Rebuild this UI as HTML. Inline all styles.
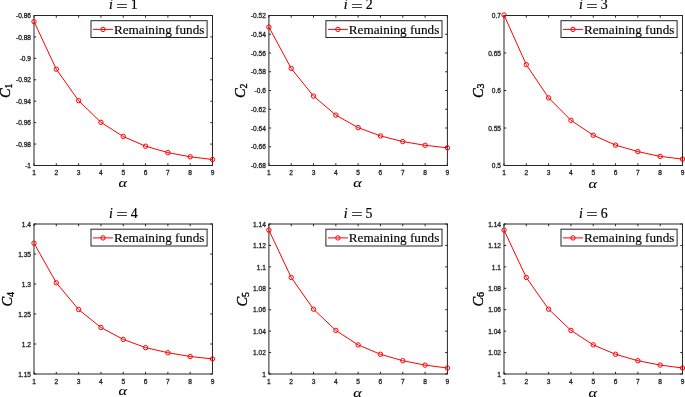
<!DOCTYPE html>
<html><head><meta charset="utf-8"><style>
html,body{margin:0;padding:0;background:#fff;}
svg{display:block;}
.tk{font-family:"Liberation Sans",Arial,sans-serif;font-size:6.6px;fill:#262626;stroke:#262626;stroke-width:0.3px;}
.lg{font-family:"Liberation Serif","Times New Roman",serif;font-size:13.2px;fill:#000;stroke:#000;stroke-width:0.15px;}
.ti{font-family:"Liberation Serif","Times New Roman",serif;font-size:13.8px;fill:#000;stroke:#000;stroke-width:0.2px;}
.lb{font-family:"Liberation Serif","Times New Roman",serif;font-size:14px;fill:#000;stroke:#000;stroke-width:0.35px;}
</style></head><body>
<svg width="685" height="397" viewBox="0 0 685 397">
<rect width="685" height="397" fill="#fff"/>
<rect x="34" y="15.5" width="178.5" height="150" fill="#fff" stroke="#262626" stroke-width="1"/>
<path d="M34 165.5v-2.2M34 15.5v2.2M56.31 165.5v-2.2M56.31 15.5v2.2M78.62 165.5v-2.2M78.62 15.5v2.2M100.94 165.5v-2.2M100.94 15.5v2.2M123.25 165.5v-2.2M123.25 15.5v2.2M145.56 165.5v-2.2M145.56 15.5v2.2M167.88 165.5v-2.2M167.88 15.5v2.2M190.19 165.5v-2.2M190.19 15.5v2.2M212.5 165.5v-2.2M212.5 15.5v2.2M34 15.5h2.2M212.5 15.5h-2.2M34 36.93h2.2M212.5 36.93h-2.2M34 58.36h2.2M212.5 58.36h-2.2M34 79.79h2.2M212.5 79.79h-2.2M34 101.21h2.2M212.5 101.21h-2.2M34 122.64h2.2M212.5 122.64h-2.2M34 144.07h2.2M212.5 144.07h-2.2M34 165.5h2.2M212.5 165.5h-2.2" stroke="#262626" stroke-width="1" fill="none"/>
<text x="34" y="175.1" class="tk" text-anchor="middle">1</text>
<text x="56.31" y="175.1" class="tk" text-anchor="middle">2</text>
<text x="78.62" y="175.1" class="tk" text-anchor="middle">3</text>
<text x="100.94" y="175.1" class="tk" text-anchor="middle">4</text>
<text x="123.25" y="175.1" class="tk" text-anchor="middle">5</text>
<text x="145.56" y="175.1" class="tk" text-anchor="middle">6</text>
<text x="167.88" y="175.1" class="tk" text-anchor="middle">7</text>
<text x="190.19" y="175.1" class="tk" text-anchor="middle">8</text>
<text x="212.5" y="175.1" class="tk" text-anchor="middle">9</text>
<text x="31" y="18.2" class="tk" text-anchor="end">-0.86</text>
<text x="31" y="39.63" class="tk" text-anchor="end">-0.88</text>
<text x="31" y="61.06" class="tk" text-anchor="end">-0.9</text>
<text x="31" y="82.49" class="tk" text-anchor="end">-0.92</text>
<text x="31" y="103.91" class="tk" text-anchor="end">-0.94</text>
<text x="31" y="125.34" class="tk" text-anchor="end">-0.96</text>
<text x="31" y="146.77" class="tk" text-anchor="end">-0.98</text>
<text x="31" y="168.2" class="tk" text-anchor="end">-1</text>
<path d="M34 21.6 L56.31 69.2 L78.62 100.7 L100.94 122.3 L123.25 136.5 L145.56 146.2 L167.88 152.6 L190.19 156.8 L212.5 159.5" stroke="#ff0000" stroke-width="1" fill="none"/>
<circle cx="34" cy="21.6" r="2.2" stroke="#ff0000" stroke-width="1" fill="none"/>
<circle cx="56.31" cy="69.2" r="2.2" stroke="#ff0000" stroke-width="1" fill="none"/>
<circle cx="78.62" cy="100.7" r="2.2" stroke="#ff0000" stroke-width="1" fill="none"/>
<circle cx="100.94" cy="122.3" r="2.2" stroke="#ff0000" stroke-width="1" fill="none"/>
<circle cx="123.25" cy="136.5" r="2.2" stroke="#ff0000" stroke-width="1" fill="none"/>
<circle cx="145.56" cy="146.2" r="2.2" stroke="#ff0000" stroke-width="1" fill="none"/>
<circle cx="167.88" cy="152.6" r="2.2" stroke="#ff0000" stroke-width="1" fill="none"/>
<circle cx="190.19" cy="156.8" r="2.2" stroke="#ff0000" stroke-width="1" fill="none"/>
<circle cx="212.5" cy="159.5" r="2.2" stroke="#ff0000" stroke-width="1" fill="none"/>
<rect x="91" y="20.7" width="116.1" height="16.8" fill="#fff" stroke="#262626" stroke-width="1"/>
<path d="M93 29.4H113" stroke="#ff0000" stroke-width="1" fill="none"/>
<circle cx="103" cy="29.4" r="2.2" stroke="#ff0000" stroke-width="1" fill="none"/>
<text x="113.9" y="33.7" class="lg">Remaining funds</text>
<text x="108.91" y="9.2" class="ti" font-style="italic">i</text>
<text transform="translate(116.29 10.5) scale(1.464 1)" class="ti">=</text>
<text x="130.69" y="9.2" class="ti">1</text>
<text transform="translate(118.47 186.8) scale(1.202 1)" class="lb" style="font-size:13.5px;stroke-width:0.1px" font-style="italic">α</text>
<g transform="translate(10 90.5) rotate(-90)"><text x="-7.61" y="0" class="lb" style="font-size:14.5px" font-style="italic">C</text><text x="2.0" y="1.8" class="lb" style="font-size:10px">1</text></g>
<rect x="268.9" y="15.5" width="178.5" height="150" fill="#fff" stroke="#262626" stroke-width="1"/>
<path d="M268.9 165.5v-2.2M268.9 15.5v2.2M291.21 165.5v-2.2M291.21 15.5v2.2M313.52 165.5v-2.2M313.52 15.5v2.2M335.84 165.5v-2.2M335.84 15.5v2.2M358.15 165.5v-2.2M358.15 15.5v2.2M380.46 165.5v-2.2M380.46 15.5v2.2M402.77 165.5v-2.2M402.77 15.5v2.2M425.09 165.5v-2.2M425.09 15.5v2.2M447.4 165.5v-2.2M447.4 15.5v2.2M268.9 15.5h2.2M447.4 15.5h-2.2M268.9 34.25h2.2M447.4 34.25h-2.2M268.9 53h2.2M447.4 53h-2.2M268.9 71.75h2.2M447.4 71.75h-2.2M268.9 90.5h2.2M447.4 90.5h-2.2M268.9 109.25h2.2M447.4 109.25h-2.2M268.9 128h2.2M447.4 128h-2.2M268.9 146.75h2.2M447.4 146.75h-2.2M268.9 165.5h2.2M447.4 165.5h-2.2" stroke="#262626" stroke-width="1" fill="none"/>
<text x="268.9" y="175.1" class="tk" text-anchor="middle">1</text>
<text x="291.21" y="175.1" class="tk" text-anchor="middle">2</text>
<text x="313.52" y="175.1" class="tk" text-anchor="middle">3</text>
<text x="335.84" y="175.1" class="tk" text-anchor="middle">4</text>
<text x="358.15" y="175.1" class="tk" text-anchor="middle">5</text>
<text x="380.46" y="175.1" class="tk" text-anchor="middle">6</text>
<text x="402.77" y="175.1" class="tk" text-anchor="middle">7</text>
<text x="425.09" y="175.1" class="tk" text-anchor="middle">8</text>
<text x="447.4" y="175.1" class="tk" text-anchor="middle">9</text>
<text x="265.9" y="18.2" class="tk" text-anchor="end">-0.52</text>
<text x="265.9" y="36.95" class="tk" text-anchor="end">-0.54</text>
<text x="265.9" y="55.7" class="tk" text-anchor="end">-0.56</text>
<text x="265.9" y="74.45" class="tk" text-anchor="end">-0.58</text>
<text x="265.9" y="93.2" class="tk" text-anchor="end">-0.6</text>
<text x="265.9" y="111.95" class="tk" text-anchor="end">-0.62</text>
<text x="265.9" y="130.7" class="tk" text-anchor="end">-0.64</text>
<text x="265.9" y="149.45" class="tk" text-anchor="end">-0.66</text>
<text x="265.9" y="168.2" class="tk" text-anchor="end">-0.68</text>
<path d="M268.9 27.1 L291.21 68.4 L313.52 96.1 L335.84 115.1 L358.15 127.6 L380.46 135.9 L402.77 141.6 L425.09 145.3 L447.4 147.8" stroke="#ff0000" stroke-width="1" fill="none"/>
<circle cx="268.9" cy="27.1" r="2.2" stroke="#ff0000" stroke-width="1" fill="none"/>
<circle cx="291.21" cy="68.4" r="2.2" stroke="#ff0000" stroke-width="1" fill="none"/>
<circle cx="313.52" cy="96.1" r="2.2" stroke="#ff0000" stroke-width="1" fill="none"/>
<circle cx="335.84" cy="115.1" r="2.2" stroke="#ff0000" stroke-width="1" fill="none"/>
<circle cx="358.15" cy="127.6" r="2.2" stroke="#ff0000" stroke-width="1" fill="none"/>
<circle cx="380.46" cy="135.9" r="2.2" stroke="#ff0000" stroke-width="1" fill="none"/>
<circle cx="402.77" cy="141.6" r="2.2" stroke="#ff0000" stroke-width="1" fill="none"/>
<circle cx="425.09" cy="145.3" r="2.2" stroke="#ff0000" stroke-width="1" fill="none"/>
<circle cx="447.4" cy="147.8" r="2.2" stroke="#ff0000" stroke-width="1" fill="none"/>
<rect x="325.9" y="20.7" width="116.1" height="16.8" fill="#fff" stroke="#262626" stroke-width="1"/>
<path d="M327.9 29.4H347.9" stroke="#ff0000" stroke-width="1" fill="none"/>
<circle cx="337.9" cy="29.4" r="2.2" stroke="#ff0000" stroke-width="1" fill="none"/>
<text x="348.8" y="33.7" class="lg">Remaining funds</text>
<text x="343.81" y="9.2" class="ti" font-style="italic">i</text>
<text transform="translate(351.19 10.5) scale(1.464 1)" class="ti">=</text>
<text x="365.74" y="9.2" class="ti">2</text>
<text transform="translate(353.37 186.8) scale(1.202 1)" class="lb" style="font-size:13.5px;stroke-width:0.1px" font-style="italic">α</text>
<g transform="translate(245.2 90.5) rotate(-90)"><text x="-7.61" y="0" class="lb" style="font-size:14.5px" font-style="italic">C</text><text x="2.0" y="1.8" class="lb" style="font-size:10px">2</text></g>
<rect x="504" y="15.5" width="178.5" height="150" fill="#fff" stroke="#262626" stroke-width="1"/>
<path d="M504 165.5v-2.2M504 15.5v2.2M526.31 165.5v-2.2M526.31 15.5v2.2M548.62 165.5v-2.2M548.62 15.5v2.2M570.94 165.5v-2.2M570.94 15.5v2.2M593.25 165.5v-2.2M593.25 15.5v2.2M615.56 165.5v-2.2M615.56 15.5v2.2M637.88 165.5v-2.2M637.88 15.5v2.2M660.19 165.5v-2.2M660.19 15.5v2.2M682.5 165.5v-2.2M682.5 15.5v2.2M504 15.5h2.2M682.5 15.5h-2.2M504 53h2.2M682.5 53h-2.2M504 90.5h2.2M682.5 90.5h-2.2M504 128h2.2M682.5 128h-2.2M504 165.5h2.2M682.5 165.5h-2.2" stroke="#262626" stroke-width="1" fill="none"/>
<text x="504" y="175.1" class="tk" text-anchor="middle">1</text>
<text x="526.31" y="175.1" class="tk" text-anchor="middle">2</text>
<text x="548.62" y="175.1" class="tk" text-anchor="middle">3</text>
<text x="570.94" y="175.1" class="tk" text-anchor="middle">4</text>
<text x="593.25" y="175.1" class="tk" text-anchor="middle">5</text>
<text x="615.56" y="175.1" class="tk" text-anchor="middle">6</text>
<text x="637.88" y="175.1" class="tk" text-anchor="middle">7</text>
<text x="660.19" y="175.1" class="tk" text-anchor="middle">8</text>
<text x="682.5" y="175.1" class="tk" text-anchor="middle">9</text>
<text x="501" y="18.2" class="tk" text-anchor="end">0.7</text>
<text x="501" y="55.7" class="tk" text-anchor="end">0.65</text>
<text x="501" y="93.2" class="tk" text-anchor="end">0.6</text>
<text x="501" y="130.7" class="tk" text-anchor="end">0.55</text>
<text x="501" y="168.2" class="tk" text-anchor="end">0.5</text>
<path d="M504 15 L526.31 64.7 L548.62 97.9 L570.94 120.3 L593.25 135.2 L615.56 145.1 L637.88 151.6 L660.19 156.4 L682.5 159.1" stroke="#ff0000" stroke-width="1" fill="none"/>
<circle cx="504" cy="15" r="2.2" stroke="#ff0000" stroke-width="1" fill="none"/>
<circle cx="526.31" cy="64.7" r="2.2" stroke="#ff0000" stroke-width="1" fill="none"/>
<circle cx="548.62" cy="97.9" r="2.2" stroke="#ff0000" stroke-width="1" fill="none"/>
<circle cx="570.94" cy="120.3" r="2.2" stroke="#ff0000" stroke-width="1" fill="none"/>
<circle cx="593.25" cy="135.2" r="2.2" stroke="#ff0000" stroke-width="1" fill="none"/>
<circle cx="615.56" cy="145.1" r="2.2" stroke="#ff0000" stroke-width="1" fill="none"/>
<circle cx="637.88" cy="151.6" r="2.2" stroke="#ff0000" stroke-width="1" fill="none"/>
<circle cx="660.19" cy="156.4" r="2.2" stroke="#ff0000" stroke-width="1" fill="none"/>
<circle cx="682.5" cy="159.1" r="2.2" stroke="#ff0000" stroke-width="1" fill="none"/>
<rect x="561" y="20.7" width="116.1" height="16.8" fill="#fff" stroke="#262626" stroke-width="1"/>
<path d="M563 29.4H583" stroke="#ff0000" stroke-width="1" fill="none"/>
<circle cx="573" cy="29.4" r="2.2" stroke="#ff0000" stroke-width="1" fill="none"/>
<text x="583.9" y="33.7" class="lg">Remaining funds</text>
<text x="578.91" y="9.2" class="ti" font-style="italic">i</text>
<text transform="translate(586.29 10.5) scale(1.464 1)" class="ti">=</text>
<text x="600.79" y="9.2" class="ti">3</text>
<text transform="translate(588.47 188.4) scale(1.202 1)" class="lb" style="font-size:13.5px;stroke-width:0.1px" font-style="italic">α</text>
<g transform="translate(482.5 90.5) rotate(-90)"><text x="-7.61" y="0" class="lb" style="font-size:14.5px" font-style="italic">C</text><text x="2.0" y="1.8" class="lb" style="font-size:10px">3</text></g>
<rect x="34" y="224" width="178.5" height="150" fill="#fff" stroke="#262626" stroke-width="1"/>
<path d="M34 374v-2.2M34 224v2.2M56.31 374v-2.2M56.31 224v2.2M78.62 374v-2.2M78.62 224v2.2M100.94 374v-2.2M100.94 224v2.2M123.25 374v-2.2M123.25 224v2.2M145.56 374v-2.2M145.56 224v2.2M167.88 374v-2.2M167.88 224v2.2M190.19 374v-2.2M190.19 224v2.2M212.5 374v-2.2M212.5 224v2.2M34 224h2.2M212.5 224h-2.2M34 254h2.2M212.5 254h-2.2M34 284h2.2M212.5 284h-2.2M34 314h2.2M212.5 314h-2.2M34 344h2.2M212.5 344h-2.2M34 374h2.2M212.5 374h-2.2" stroke="#262626" stroke-width="1" fill="none"/>
<text x="34" y="383.6" class="tk" text-anchor="middle">1</text>
<text x="56.31" y="383.6" class="tk" text-anchor="middle">2</text>
<text x="78.62" y="383.6" class="tk" text-anchor="middle">3</text>
<text x="100.94" y="383.6" class="tk" text-anchor="middle">4</text>
<text x="123.25" y="383.6" class="tk" text-anchor="middle">5</text>
<text x="145.56" y="383.6" class="tk" text-anchor="middle">6</text>
<text x="167.88" y="383.6" class="tk" text-anchor="middle">7</text>
<text x="190.19" y="383.6" class="tk" text-anchor="middle">8</text>
<text x="212.5" y="383.6" class="tk" text-anchor="middle">9</text>
<text x="31" y="226.7" class="tk" text-anchor="end">1.4</text>
<text x="31" y="256.7" class="tk" text-anchor="end">1.35</text>
<text x="31" y="286.7" class="tk" text-anchor="end">1.3</text>
<text x="31" y="316.7" class="tk" text-anchor="end">1.25</text>
<text x="31" y="346.7" class="tk" text-anchor="end">1.2</text>
<text x="31" y="376.7" class="tk" text-anchor="end">1.15</text>
<path d="M34 243.2 L56.31 282.8 L78.62 309.5 L100.94 327.5 L123.25 339.4 L145.56 347.6 L167.88 352.7 L190.19 356.5 L212.5 358.9" stroke="#ff0000" stroke-width="1" fill="none"/>
<circle cx="34" cy="243.2" r="2.2" stroke="#ff0000" stroke-width="1" fill="none"/>
<circle cx="56.31" cy="282.8" r="2.2" stroke="#ff0000" stroke-width="1" fill="none"/>
<circle cx="78.62" cy="309.5" r="2.2" stroke="#ff0000" stroke-width="1" fill="none"/>
<circle cx="100.94" cy="327.5" r="2.2" stroke="#ff0000" stroke-width="1" fill="none"/>
<circle cx="123.25" cy="339.4" r="2.2" stroke="#ff0000" stroke-width="1" fill="none"/>
<circle cx="145.56" cy="347.6" r="2.2" stroke="#ff0000" stroke-width="1" fill="none"/>
<circle cx="167.88" cy="352.7" r="2.2" stroke="#ff0000" stroke-width="1" fill="none"/>
<circle cx="190.19" cy="356.5" r="2.2" stroke="#ff0000" stroke-width="1" fill="none"/>
<circle cx="212.5" cy="358.9" r="2.2" stroke="#ff0000" stroke-width="1" fill="none"/>
<rect x="91" y="229.2" width="116.1" height="16.8" fill="#fff" stroke="#262626" stroke-width="1"/>
<path d="M93 237.9H113" stroke="#ff0000" stroke-width="1" fill="none"/>
<circle cx="103" cy="237.9" r="2.2" stroke="#ff0000" stroke-width="1" fill="none"/>
<text x="113.9" y="242.2" class="lg">Remaining funds</text>
<text x="108.91" y="217.7" class="ti" font-style="italic">i</text>
<text transform="translate(116.29 219) scale(1.464 1)" class="ti">=</text>
<text x="130.63" y="217.7" class="ti">4</text>
<text transform="translate(118.47 395.3) scale(1.202 1)" class="lb" style="font-size:13.5px;stroke-width:0.1px" font-style="italic">α</text>
<g transform="translate(12.3 299) rotate(-90)"><text x="-7.61" y="0" class="lb" style="font-size:14.5px" font-style="italic">C</text><text x="2.0" y="1.8" class="lb" style="font-size:10px">4</text></g>
<rect x="268.9" y="224" width="178.5" height="150" fill="#fff" stroke="#262626" stroke-width="1"/>
<path d="M268.9 374v-2.2M268.9 224v2.2M291.21 374v-2.2M291.21 224v2.2M313.52 374v-2.2M313.52 224v2.2M335.84 374v-2.2M335.84 224v2.2M358.15 374v-2.2M358.15 224v2.2M380.46 374v-2.2M380.46 224v2.2M402.77 374v-2.2M402.77 224v2.2M425.09 374v-2.2M425.09 224v2.2M447.4 374v-2.2M447.4 224v2.2M268.9 224h2.2M447.4 224h-2.2M268.9 245.43h2.2M447.4 245.43h-2.2M268.9 266.86h2.2M447.4 266.86h-2.2M268.9 288.29h2.2M447.4 288.29h-2.2M268.9 309.71h2.2M447.4 309.71h-2.2M268.9 331.14h2.2M447.4 331.14h-2.2M268.9 352.57h2.2M447.4 352.57h-2.2M268.9 374h2.2M447.4 374h-2.2" stroke="#262626" stroke-width="1" fill="none"/>
<text x="268.9" y="383.6" class="tk" text-anchor="middle">1</text>
<text x="291.21" y="383.6" class="tk" text-anchor="middle">2</text>
<text x="313.52" y="383.6" class="tk" text-anchor="middle">3</text>
<text x="335.84" y="383.6" class="tk" text-anchor="middle">4</text>
<text x="358.15" y="383.6" class="tk" text-anchor="middle">5</text>
<text x="380.46" y="383.6" class="tk" text-anchor="middle">6</text>
<text x="402.77" y="383.6" class="tk" text-anchor="middle">7</text>
<text x="425.09" y="383.6" class="tk" text-anchor="middle">8</text>
<text x="447.4" y="383.6" class="tk" text-anchor="middle">9</text>
<text x="265.9" y="226.7" class="tk" text-anchor="end">1.14</text>
<text x="265.9" y="248.13" class="tk" text-anchor="end">1.12</text>
<text x="265.9" y="269.56" class="tk" text-anchor="end">1.1</text>
<text x="265.9" y="290.99" class="tk" text-anchor="end">1.08</text>
<text x="265.9" y="312.41" class="tk" text-anchor="end">1.06</text>
<text x="265.9" y="333.84" class="tk" text-anchor="end">1.04</text>
<text x="265.9" y="355.27" class="tk" text-anchor="end">1.02</text>
<text x="265.9" y="376.7" class="tk" text-anchor="end">1</text>
<path d="M268.9 230.1 L291.21 277.5 L313.52 309.2 L335.84 330.4 L358.15 344.9 L380.46 354.3 L402.77 360.7 L425.09 365.1 L447.4 368" stroke="#ff0000" stroke-width="1" fill="none"/>
<circle cx="268.9" cy="230.1" r="2.2" stroke="#ff0000" stroke-width="1" fill="none"/>
<circle cx="291.21" cy="277.5" r="2.2" stroke="#ff0000" stroke-width="1" fill="none"/>
<circle cx="313.52" cy="309.2" r="2.2" stroke="#ff0000" stroke-width="1" fill="none"/>
<circle cx="335.84" cy="330.4" r="2.2" stroke="#ff0000" stroke-width="1" fill="none"/>
<circle cx="358.15" cy="344.9" r="2.2" stroke="#ff0000" stroke-width="1" fill="none"/>
<circle cx="380.46" cy="354.3" r="2.2" stroke="#ff0000" stroke-width="1" fill="none"/>
<circle cx="402.77" cy="360.7" r="2.2" stroke="#ff0000" stroke-width="1" fill="none"/>
<circle cx="425.09" cy="365.1" r="2.2" stroke="#ff0000" stroke-width="1" fill="none"/>
<circle cx="447.4" cy="368" r="2.2" stroke="#ff0000" stroke-width="1" fill="none"/>
<rect x="325.9" y="229.2" width="116.1" height="16.8" fill="#fff" stroke="#262626" stroke-width="1"/>
<path d="M327.9 237.9H347.9" stroke="#ff0000" stroke-width="1" fill="none"/>
<circle cx="337.9" cy="237.9" r="2.2" stroke="#ff0000" stroke-width="1" fill="none"/>
<text x="348.8" y="242.2" class="lg">Remaining funds</text>
<text x="343.81" y="217.7" class="ti" font-style="italic">i</text>
<text transform="translate(351.19 219) scale(1.464 1)" class="ti">=</text>
<text x="365.55" y="217.7" class="ti">5</text>
<text transform="translate(353.37 397) scale(1.202 1)" class="lb" style="font-size:13.5px;stroke-width:0.1px" font-style="italic">α</text>
<g transform="translate(247.3 299) rotate(-90)"><text x="-7.61" y="0" class="lb" style="font-size:14.5px" font-style="italic">C</text><text x="2.0" y="1.8" class="lb" style="font-size:10px">5</text></g>
<rect x="504" y="224" width="178.5" height="150" fill="#fff" stroke="#262626" stroke-width="1"/>
<path d="M504 374v-2.2M504 224v2.2M526.31 374v-2.2M526.31 224v2.2M548.62 374v-2.2M548.62 224v2.2M570.94 374v-2.2M570.94 224v2.2M593.25 374v-2.2M593.25 224v2.2M615.56 374v-2.2M615.56 224v2.2M637.88 374v-2.2M637.88 224v2.2M660.19 374v-2.2M660.19 224v2.2M682.5 374v-2.2M682.5 224v2.2M504 224h2.2M682.5 224h-2.2M504 245.43h2.2M682.5 245.43h-2.2M504 266.86h2.2M682.5 266.86h-2.2M504 288.29h2.2M682.5 288.29h-2.2M504 309.71h2.2M682.5 309.71h-2.2M504 331.14h2.2M682.5 331.14h-2.2M504 352.57h2.2M682.5 352.57h-2.2M504 374h2.2M682.5 374h-2.2" stroke="#262626" stroke-width="1" fill="none"/>
<text x="504" y="383.6" class="tk" text-anchor="middle">1</text>
<text x="526.31" y="383.6" class="tk" text-anchor="middle">2</text>
<text x="548.62" y="383.6" class="tk" text-anchor="middle">3</text>
<text x="570.94" y="383.6" class="tk" text-anchor="middle">4</text>
<text x="593.25" y="383.6" class="tk" text-anchor="middle">5</text>
<text x="615.56" y="383.6" class="tk" text-anchor="middle">6</text>
<text x="637.88" y="383.6" class="tk" text-anchor="middle">7</text>
<text x="660.19" y="383.6" class="tk" text-anchor="middle">8</text>
<text x="682.5" y="383.6" class="tk" text-anchor="middle">9</text>
<text x="501" y="226.7" class="tk" text-anchor="end">1.14</text>
<text x="501" y="248.13" class="tk" text-anchor="end">1.12</text>
<text x="501" y="269.56" class="tk" text-anchor="end">1.1</text>
<text x="501" y="290.99" class="tk" text-anchor="end">1.08</text>
<text x="501" y="312.41" class="tk" text-anchor="end">1.06</text>
<text x="501" y="333.84" class="tk" text-anchor="end">1.04</text>
<text x="501" y="355.27" class="tk" text-anchor="end">1.02</text>
<text x="501" y="376.7" class="tk" text-anchor="end">1</text>
<path d="M504 230.1 L526.31 277.5 L548.62 309.2 L570.94 330.4 L593.25 344.9 L615.56 354.3 L637.88 360.7 L660.19 365.1 L682.5 368" stroke="#ff0000" stroke-width="1" fill="none"/>
<circle cx="504" cy="230.1" r="2.2" stroke="#ff0000" stroke-width="1" fill="none"/>
<circle cx="526.31" cy="277.5" r="2.2" stroke="#ff0000" stroke-width="1" fill="none"/>
<circle cx="548.62" cy="309.2" r="2.2" stroke="#ff0000" stroke-width="1" fill="none"/>
<circle cx="570.94" cy="330.4" r="2.2" stroke="#ff0000" stroke-width="1" fill="none"/>
<circle cx="593.25" cy="344.9" r="2.2" stroke="#ff0000" stroke-width="1" fill="none"/>
<circle cx="615.56" cy="354.3" r="2.2" stroke="#ff0000" stroke-width="1" fill="none"/>
<circle cx="637.88" cy="360.7" r="2.2" stroke="#ff0000" stroke-width="1" fill="none"/>
<circle cx="660.19" cy="365.1" r="2.2" stroke="#ff0000" stroke-width="1" fill="none"/>
<circle cx="682.5" cy="368" r="2.2" stroke="#ff0000" stroke-width="1" fill="none"/>
<rect x="561" y="229.2" width="116.1" height="16.8" fill="#fff" stroke="#262626" stroke-width="1"/>
<path d="M563 237.9H583" stroke="#ff0000" stroke-width="1" fill="none"/>
<circle cx="573" cy="237.9" r="2.2" stroke="#ff0000" stroke-width="1" fill="none"/>
<text x="583.9" y="242.2" class="lg">Remaining funds</text>
<text x="578.91" y="217.7" class="ti" font-style="italic">i</text>
<text transform="translate(586.29 219) scale(1.464 1)" class="ti">=</text>
<text x="600.86" y="217.7" class="ti">6</text>
<text transform="translate(588.47 397) scale(1.202 1)" class="lb" style="font-size:13.5px;stroke-width:0.1px" font-style="italic">α</text>
<g transform="translate(482.5 299) rotate(-90)"><text x="-7.61" y="0" class="lb" style="font-size:14.5px" font-style="italic">C</text><text x="2.0" y="1.8" class="lb" style="font-size:10px">6</text></g>
</svg>
</body></html>
